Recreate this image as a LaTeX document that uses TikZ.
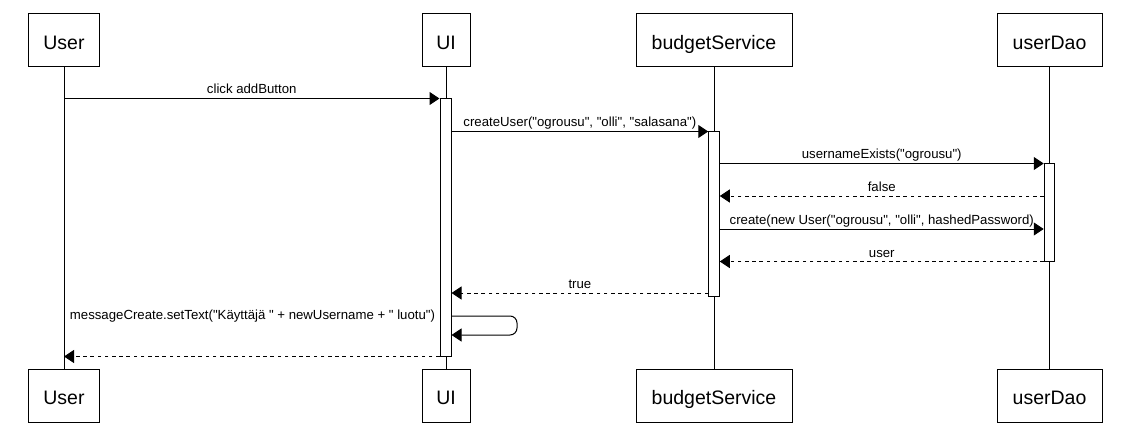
\documentclass[tikz,border=0pt]{standalone}
\usepackage{fontspec}
\setmainfont{Liberation Sans}[Ligatures=TeXOff]
\usetikzlibrary{arrows.meta}

\begin{document}
\begin{tikzpicture}[x=1pt,y=-1pt,line width=1pt]
    \tikzstyle{actor} = [rectangle, draw, fill=white, inner sep=0pt, minimum height=53pt, text height=17.6pt, text depth=0pt, font=\fontsize{19.5}{23}\selectfont]
    \tikzstyle{activation} = [rectangle, draw, fill=white, inner sep=0pt, minimum width=10.5pt]
    \tikzstyle{msg} = [-{Triangle[length=10pt,width=13pt]}]
    \tikzstyle{reply} = [msg, dash pattern=on 3.6pt off 3.6pt]
    \tikzstyle{label} = [anchor=base, yshift=4.5pt, inner sep=0pt, font=\fontsize{13.2}{15}\selectfont]

    \useasboundingbox (0,0) rectangle (1122,425);

    % actors, top and bottom
    \node (user) [actor, minimum width=71pt] at (64,40.5) {User};
    \node (ui) [actor, minimum width=48pt] at (446,40.5) {UI};
    \node (budget) [actor, minimum width=156pt] at (714,40.5) {budgetService};
    \node (dao) [actor, minimum width=105pt] at (1049.5,40.5) {userDao};
    \node (userB) [actor, minimum width=71pt] at (64,395.5) {User};
    \node (uiB) [actor, minimum width=48pt] at (446,395.5) {UI};
    \node (budgetB) [actor, minimum width=156pt] at (714,395.5) {budgetService};
    \node (daoB) [actor, minimum width=105pt] at (1049.5,395.5) {userDao};

    % lifelines
    \draw (user) -- (userB);
    \draw (ui) -- (uiB);
    \draw (budget) -- (budgetB);
    \draw (dao) -- (daoB);

    % activation bars
    \node (actUI) [activation, minimum width=11pt, minimum height=257pt] at (445.5,227.5) {};
    \node (actBS) [activation, minimum height=164pt] at (714,214) {};
    \node (actDao) [activation, minimum height=97pt] at (1049.5,212.5) {};

    % message rows
    \coordinate (r4) at (0,196);
    \coordinate (r5) at (0,229);
    \coordinate (r7) at (0,293);
    \coordinate (r8) at (0,316);
    \coordinate (r8b) at (0,335);
    \coordinate (selfTurn) at (517,0);

    % messages
    \draw [msg] (user |- actUI.north) -- node[label] {click addButton} (actUI.north west);
    \draw [msg] (actUI.east |- actBS.north) -- node[label] {createUser("ogrousu", "olli", "salasana")} (actBS.north west);
    \draw [msg] (actBS.east |- actDao.north) -- node[label] {usernameExists("ogrousu")} (actDao.north west);
    \draw [reply] (actDao.west |- r4) -- node[label] {false} (actBS.east |- r4);
    \draw [msg] (actBS.east |- r5) -- node[label] {create(new User("ogrousu", "olli", hashedPassword)} (actDao.west |- r5);
    \draw [reply] (actDao.south west) -- node[label] {user} (actBS.east |- actDao.south);
    \draw [reply] (actBS.west |- r7) -- node[label] {true} (actUI.east |- r7);
    \draw [msg, rounded corners=7pt] (actUI.east |- r8) -- (selfTurn |- r8) -- (selfTurn |- r8b) -- (actUI.east |- r8b);
    \node (selfText) [anchor=east, inner sep=0pt, font=\fontsize{13.2}{15}\selectfont] at ([xshift=-4pt]actUI.west |- r8) {messageCreate.setText("Käyttäjä " + newUsername + " luotu")};
    \draw [reply] (actUI.south west) -- (user |- actUI.south);
\end{tikzpicture}
\end{document}
